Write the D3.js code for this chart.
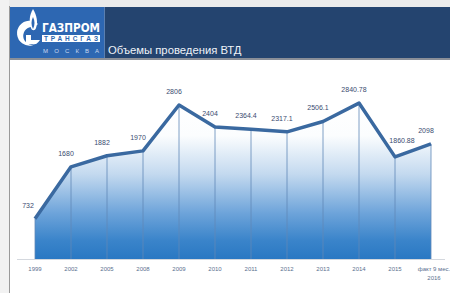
<!DOCTYPE html>
<html>
<head>
<meta charset="utf-8">
<script src="https://cdn.jsdelivr.net/npm/d3@7"></script>
<style>
  body { margin: 0; background: #fff; }
  svg { display: block; font-family: "Liberation Sans", Arial, sans-serif; }
</style>
</head>
<body>
<div id="chart"></div>
<script>
// data
const years = ["1999", "2002", "2005", "2008", "2009", "2010", "2011", "2012", "2013", "2014", "2015", "факт 9 мес.|2016"];
const values = [732, 1680, 1882, 1970, 2806, 2404, 2364.4, 2317.1, 2506.1, 2840.78, 1860.88, 2098];
const valueLabels = ["732", "1680", "1882", "1970", "2806", "2404", "2364.4", "2317.1", "2506.1", "2840.78", "1860.88", "2098"];
const title = "Объемы проведения ВТД";

const W = 450, H = 293;

const svg = d3.select("#chart").append("svg")
  .attr("width", W).attr("height", H);

// page frame
svg.append("rect").attr("width", W).attr("height", H).attr("fill", "#fff");
svg.append("rect").attr("width", W).attr("height", 7).attr("fill", "#ebebeb");
svg.append("rect").attr("width", 9).attr("height", H).attr("fill", "#f2f2f2");
svg.append("line").attr("x1", 9.5).attr("x2", 9.5).attr("y1", 6).attr("y2", H)
  .attr("stroke", "#9a9a9a").attr("stroke-width", 1);

// header
svg.append("rect").attr("x", 10).attr("y", 7).attr("width", W - 10).attr("height", 51).attr("fill", "#24446f");
svg.append("rect").attr("x", 10).attr("y", 58).attr("width", W - 10).attr("height", 2).attr("fill", "#8a8f98");
svg.append("rect").attr("x", 10).attr("y", 7).attr("width", 94).attr("height", 51).attr("fill", "#2d67b2");
svg.append("line").attr("x1", 104.5).attr("x2", 104.5).attr("y1", 7).attr("y2", 58)
  .attr("stroke", "#5a7fb0").attr("stroke-width", 1);

// logo, rough
const logo = svg.append("g");
logo.append("path")
  .attr("d", "M38,24 A12.5,12.5 0 1 0 40,40 L31,40 L31,35 L26,35 L26,44 L36,44 A9,9 0 1 1 34,27 Z")
  .attr("fill", "#fff");
logo.append("path")
  .attr("d", "M33,9 C29,16 29,22 31,28 C32,31 35,31 36,28 C38,22 37,16 33,9 Z")
  .attr("fill", "#fff");
logo.append("path")
  .attr("d", "M33,17 C31,21 31,25 33,29 C35,25 35,21 33,17 Z")
  .attr("fill", "#2d67b2");
logo.append("text").attr("x", 71).attr("y", 32).attr("text-anchor", "middle")
  .attr("font-size", 13).attr("font-weight", "bold").attr("fill", "#fff")
  .attr("font-family", "'DejaVu Sans Condensed', 'Liberation Sans Narrow', sans-serif")
  .attr("textLength", 58).attr("lengthAdjust", "spacingAndGlyphs")
  .text("ГАЗПРОМ");
logo.append("rect").attr("x", 42).attr("y", 35).attr("width", 58).attr("height", 7).attr("fill", "#fff");
logo.append("text").attr("x", 71).attr("y", 41).attr("text-anchor", "middle")
  .attr("font-size", 6.5).attr("font-weight", "bold").attr("fill", "#2d67b2")
  .attr("textLength", 54).attr("lengthAdjust", "spacing")
  .text("ТРАНСГАЗ");
logo.append("text").attr("x", 71).attr("y", 53).attr("text-anchor", "middle")
  .attr("font-size", 6).attr("fill", "#c8d8f0")
  .attr("textLength", 56).attr("lengthAdjust", "spacing")
  .text("МОСКВА");

svg.append("text").attr("x", 108).attr("y", 54)
  .attr("font-size", 11.3).attr("fill", "#eef2f8")
  .text(title);

// chart
const x = d3.scalePoint().domain(years).range([35, 431]);
const y = d3.scaleLinear().domain([0, 2806]).range([259, 105]);

const defs = svg.append("defs");
const grad = defs.append("linearGradient").attr("id", "fillGrad")
  .attr("gradientUnits", "userSpaceOnUse")
  .attr("x1", 0).attr("x2", 0).attr("y1", 105).attr("y2", 259);
grad.append("stop").attr("offset", "0%").attr("stop-color", "#ffffff");
grad.append("stop").attr("offset", "20%").attr("stop-color", "#fbfdfe");
grad.append("stop").attr("offset", "45%").attr("stop-color", "#c3d9ef");
grad.append("stop").attr("offset", "70%").attr("stop-color", "#6ea4da");
grad.append("stop").attr("offset", "88%").attr("stop-color", "#3a84ca");
grad.append("stop").attr("offset", "100%").attr("stop-color", "#2a78c3");

svg.append("path")
  .datum(values)
  .attr("fill", "url(#fillGrad)")
  .attr("d", d3.area()
    .x((d, i) => x(years[i]))
    .y0(y(0))
    .y1(d => y(d)));

// x axis line
svg.append("line").attr("x1", 17).attr("x2", 445)
  .attr("y1", y(0) + 0.5).attr("y2", y(0) + 0.5)
  .attr("stroke", "#d4d8de").attr("stroke-width", 1);

// drop lines
svg.append("g").selectAll("line").data(values).join("line")
  .attr("x1", (d, i) => x(years[i])).attr("x2", (d, i) => x(years[i]))
  .attr("y1", d => y(d)).attr("y2", y(0))
  .attr("stroke", "#5f88b8").attr("stroke-width", 0.8);

svg.append("path")
  .datum(values)
  .attr("fill", "none")
  .attr("stroke", "#3a69a0")
  .attr("stroke-width", 3.5)
  .attr("stroke-linejoin", "round")
  .attr("d", d3.line().x((d, i) => x(years[i])).y(d => y(d)));

// value labels
svg.append("g").selectAll("text").data(values).join("text")
  .attr("x", (d, i) => i === 0 ? x(years[i]) - 7 : (i === 10 ? x(years[i]) + 7 : x(years[i]) - 5))
  .attr("y", (d, i) => y(d) - (i === 10 ? 14 : 11))
  .attr("text-anchor", "middle")
  .attr("font-size", 7).attr("fill", "#3a4c70")
  .text((d, i) => valueLabels[i]);

// x tick labels
const ticks = svg.append("g").selectAll("text").data(years).join("text")
  .attr("x", d => x(d))
  .attr("y", 271)
  .attr("text-anchor", "middle")
  .attr("font-size", 6).attr("fill", "#5a6f90");
ticks.each(function(d) {
  const parts = d.split("|");
  d3.select(this).selectAll("tspan").data(parts).join("tspan")
    .attr("x", x(d) + (parts.length > 1 ? 3 : 0))
    .attr("dy", (p, j) => j === 0 ? 0 : 8.5)
    .text(p => p);
});
</script>
</body>
</html>
